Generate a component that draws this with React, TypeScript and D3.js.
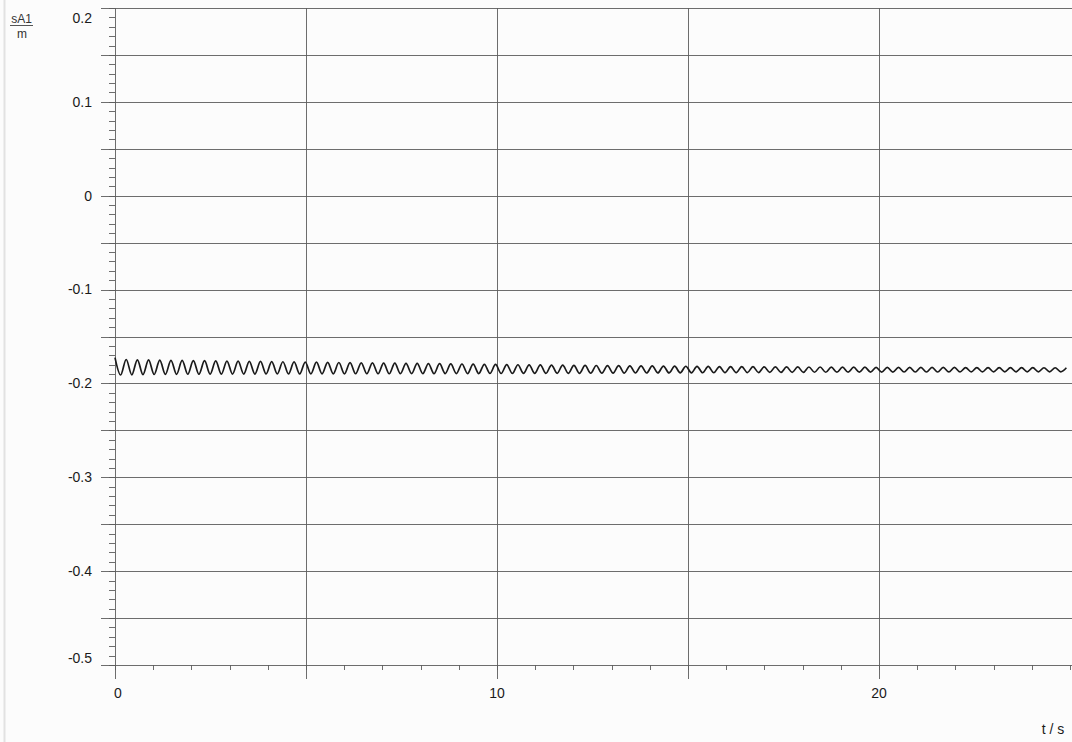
import React from "react";
import * as d3 from "d3";

// ---- data ----
const xTicks = [0, 10, 20];
const xGrid = [0, 5, 10, 15, 20];
const yTicks = [0.2, 0.1, 0, -0.1, -0.2, -0.3, -0.4, -0.5];
const yTickLabels = ["0.2", "0.1", "0", "-0.1", "-0.2", "-0.3", "-0.4", "-0.5"];
const yGrid = [0.2, 0.15, 0.1, 0.05, 0, -0.05, -0.1, -0.15, -0.2, -0.25, -0.3, -0.35, -0.4, -0.45, -0.5];
const xLabel = "t / s";
const yLabelTop = "sA1";
const yLabelBottom = "m";

// oscillation period (s)
const period = 0.293;
// local maxima of sA1 (m), one per cycle, starting at t = 0
const peaks = [
  -0.1725, -0.1745, -0.1748, -0.1750, -0.1752, -0.1754, -0.1755, -0.1757, -0.1758, -0.1760,
  -0.1762, -0.1763, -0.1765, -0.1766, -0.1768, -0.1769, -0.1771, -0.1772, -0.1774, -0.1775,
  -0.1777, -0.1778, -0.1780, -0.1781, -0.1783, -0.1784, -0.1786, -0.1787, -0.1789, -0.1790,
  -0.1792, -0.1793, -0.1795, -0.1796, -0.1798, -0.1799, -0.1801, -0.1802, -0.1803, -0.1805,
  -0.1806, -0.1807, -0.1808, -0.1809, -0.1810, -0.1811, -0.1812, -0.1813, -0.1814, -0.1815,
  -0.1816, -0.1817, -0.1818, -0.1819, -0.1820, -0.1820, -0.1821, -0.1822, -0.1823, -0.1823,
  -0.1824, -0.1824, -0.1825, -0.1825, -0.1826, -0.1826, -0.1827, -0.1827, -0.1828, -0.1828,
  -0.1829, -0.1829, -0.1829, -0.1830, -0.1830, -0.1830, -0.1831, -0.1831, -0.1831, -0.1832,
  -0.1832, -0.1832, -0.1832, -0.1833, -0.1833, -0.1833,
];
// local minima of sA1 (m), one per cycle, half a period after each maximum
const troughs = [
  -0.1910, -0.1908, -0.1906, -0.1905, -0.1904, -0.1903, -0.1902, -0.1902, -0.1901, -0.1901,
  -0.1900, -0.1900, -0.1900, -0.1899, -0.1899, -0.1899, -0.1899, -0.1898, -0.1898, -0.1898,
  -0.1898, -0.1897, -0.1897, -0.1897, -0.1897, -0.1896, -0.1896, -0.1896, -0.1896, -0.1895,
  -0.1895, -0.1895, -0.1895, -0.1894, -0.1894, -0.1894, -0.1893, -0.1893, -0.1893, -0.1892,
  -0.1892, -0.1892, -0.1891, -0.1891, -0.1890, -0.1890, -0.1889, -0.1889, -0.1888, -0.1888,
  -0.1887, -0.1887, -0.1886, -0.1886, -0.1885, -0.1885, -0.1884, -0.1884, -0.1883, -0.1883,
  -0.1882, -0.1882, -0.1881, -0.1881, -0.1880, -0.1880, -0.1880, -0.1879, -0.1879, -0.1879,
  -0.1878, -0.1878, -0.1878, -0.1878, -0.1877, -0.1877, -0.1877, -0.1877, -0.1877, -0.1876,
  -0.1876, -0.1876, -0.1876, -0.1876, -0.1876,
];

const W = 1072;
const H = 742;
const FONT = "Arial, 'Liberation Sans', sans-serif";

export default function App() {
  const x = d3.scaleLinear().domain([0, 25]).range([115, 1070]);
  const y = d3.scaleLinear().domain([-0.5, 0.2]).range([665, 8]);

  const pts: [number, number][] = [];
  peaks.forEach((p, i) => {
    pts.push([i * period, p]);
    if (i < troughs.length) pts.push([(i + 0.5) * period, troughs[i]]);
  });
  const line = d3
    .line<[number, number]>()
    .x((d) => x(d[0]))
    .y((d) => y(d[1]))
    .curve(d3.curveMonotoneX);

  const yMinor = d3.range(-50, 21).map((i) => i / 100);
  const xMinor = d3.range(0, 26);
  const axisBottom = y(-0.5);
  const gridColor = "#5c5c5c";

  return (
    <svg
      width={W}
      height={H}
      style={{ position: "absolute", left: 0, top: 0, background: "#fcfcfc" }}
      fontFamily={FONT}
    >
      <rect x={0} y={0} width={W} height={H} fill="#fcfcfc" />
      <line x1={4.5} x2={4.5} y1={0} y2={H} stroke="#e2e2e2" strokeWidth={2} />

      {/* horizontal grid */}
      {yGrid.map((v) => (
        <line
          key={"hg" + v}
          x1={101}
          x2={W}
          y1={Math.round(y(v)) + 0.5}
          y2={Math.round(y(v)) + 0.5}
          stroke={gridColor}
          strokeWidth={0.9}
        />
      ))}
      {/* vertical grid */}
      {xGrid.map((v) => (
        <line
          key={"vg" + v}
          x1={Math.round(x(v)) + 0.5}
          x2={Math.round(x(v)) + 0.5}
          y1={y(0.2)}
          y2={axisBottom + 14}
          stroke={gridColor}
          strokeWidth={0.9}
        />
      ))}
      {/* y minor ticks */}
      {yMinor.map((v) => (
        <line
          key={"ym" + v}
          x1={109}
          x2={115}
          y1={Math.round(y(v)) + 0.5}
          y2={Math.round(y(v)) + 0.5}
          stroke={gridColor}
          strokeWidth={0.9}
        />
      ))}
      {/* x minor ticks */}
      {xMinor.map((v) => (
        <line
          key={"xm" + v}
          x1={Math.round(x(v)) + 0.5}
          x2={Math.round(x(v)) + 0.5}
          y1={axisBottom}
          y2={axisBottom + 5}
          stroke={gridColor}
          strokeWidth={0.9}
        />
      ))}

      {/* y tick labels */}
      {yTicks.map((v, i) => {
        let cy = y(v);
        if (i === 0) cy += 10;
        if (i === yTicks.length - 1) cy -= 7;
        return (
          <text
            key={"yl" + v}
            x={92}
            y={cy}
            dy="0.35em"
            textAnchor="end"
            fontSize={14}
            fill="#1a1a1a"
          >
            {yTickLabels[i]}
          </text>
        );
      })}
      {/* x tick labels */}
      {xTicks.map((v, i) => (
        <text
          key={"xl" + v}
          x={x(v) + (i === 0 ? 3 : 0)}
          y={698}
          textAnchor="middle"
          fontSize={14}
          fill="#1a1a1a"
        >
          {v}
        </text>
      ))}

      {/* axis labels */}
      <text x={1053} y={734} textAnchor="middle" fontSize={14} fill="#1a1a1a">
        {xLabel}
      </text>
      <text x={21.5} y={23} textAnchor="middle" fontSize={12} fill="#333">
        {yLabelTop}
      </text>
      <line x1={10} x2={33} y1={25.5} y2={25.5} stroke="#555" strokeWidth={1} />
      <text x={22} y={38} textAnchor="middle" fontSize={12} fill="#333">
        {yLabelBottom}
      </text>

      {/* data trace */}
      <path d={line(pts) || ""} fill="none" stroke="#1a1a1a" strokeWidth={1.7} />
    </svg>
  );
}
